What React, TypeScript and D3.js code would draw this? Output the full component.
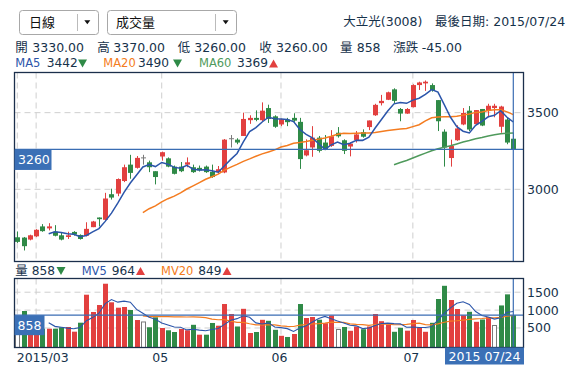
import React from "react";
import * as d3 from "d3";

// ---- data ----
const opens = [2687,2685,2672,2693,2758,2745,2723,2700,2689,2722,2702,2697,2753,2816,2801,2968,2972,3054,3161,3140,
  3205,3176,3118,3214,3202,3148,3148,3161,3144,3140,3148,3114,3112,3110,3330,3324,3348,3451,3466,3451,
  3530,3476,3423,3455,3466,3440,3221,3273,3337,3305,3283,3369,3320,3279,3322,3373,3406,3483,3562,3584,
  3652,3524,3494,3536,3680,3691,3680,3582,3376,3204,3320,3423,3513,3425,3524,3513,3530,3408,3455,3330];
const highs = [2725,2689,2704,2740,2773,2779,2766,2715,2723,2727,2706,2785,2794,2816,2977,3004,3071,3161,3225,3217,
  3225,3187,3118,3246,3208,3155,3178,3208,3161,3155,3155,3161,3152,3328,3354,3333,3500,3483,3515,3567,
  3552,3483,3461,3466,3496,3466,3326,3412,3348,3354,3386,3406,3326,3305,3380,3391,3449,3558,3616,3637,
  3659,3530,3530,3685,3702,3710,3691,3582,3391,3324,3418,3530,3543,3517,3524,3558,3558,3545,3470,3370];
const lows = [2650,2601,2667,2689,2723,2732,2693,2667,2676,2698,2672,2693,2753,2758,2796,2933,2955,3047,3069,3135,
  3161,3112,3032,3187,3144,3097,3112,3144,3107,3116,3107,3075,3101,3105,3273,3294,3348,3427,3444,3444,
  3433,3401,3412,3412,3440,3133,3215,3212,3240,3255,3277,3337,3230,3215,3305,3337,3386,3479,3547,3582,
  3562,3444,3492,3534,3648,3642,3637,3380,3148,3148,3316,3418,3380,3423,3412,3470,3470,3369,3294,3260];
const closes = [2657,2629,2700,2736,2727,2758,2697,2672,2700,2705,2676,2742,2790,2805,2940,2946,3067,3144,3107,3205,
  3205,3144,3080,3242,3148,3101,3118,3176,3112,3123,3112,3080,3131,3324,3330,3305,3459,3466,3453,3513,
  3459,3408,3457,3438,3448,3197,3255,3337,3251,3262,3346,3346,3251,3298,3358,3343,3449,3551,3577,3633,
  3577,3494,3524,3680,3697,3702,3648,3444,3273,3283,3397,3498,3390,3517,3416,3545,3545,3540,3305,3260];
const volumes = [600,975,650,640,480,480,480,520,528,397,648,1430,947,1142,1737,1218,1067,1087,1003,723,
  668,520,799,500,436,388,472,436,589,313,313,640,564,1170,891,542,1036,360,388,729,
  701,450,282,249,332,1170,779,807,732,634,849,458,528,422,542,466,542,891,690,598,
  394,506,425,723,514,394,645,1310,1679,1282,1031,855,953,673,737,807,570,1130,1440,858];

const monthTickIndex = [0, 3, 23, 42, 63];
const monthTickLabels = ["2015/03", "", "05", "06", "07"];
const priceTicks = [3000, 3500];
const volumeTicks = [500, 1000, 1500];
const lastDateLabel = "2015 07/24";
const stockTitle = "大立光(3008)";
const dateTitle = "最後日期: 2015/07/24";
const quoteLabels = ["開", "高", "低", "收", "量", "漲跌"];
const quoteValues = ["3330.00", "3370.00", "3260.00", "3260.00", "858", "-45.00"];
const maNames = ["MA5", "MA20", "MA60"];
const maValues = ["3442", "3490", "3369"];
const maTrend = [-1, -1, 1];
const mvNames = ["量", "MV5", "MV20"];
const mvValues = ["858", "964", "849"];
const mvTrend = [-1, 1, 1];

// ---- style ----
const FONT = "'DejaVu Sans', 'Noto Sans CJK TC', sans-serif";
const TXT = "#16324b";
const RED = "#e2403f";
const GREEN = "#2f8a47";
const GRAY = "#7a7a7a";
const C_MA5 = "#2b55aa";
const C_MA20 = "#f47c20";
const C_MA60 = "#4f9a5c";
const FRAME = "#1b2f4c";
const GRID = "#cfcfcf";
const CROSS = "#3a6db3";
const BOX = "#3b70b6";

const W = 583, H = 380;
const L = 14.5, R = 523.5;
const mainTop = 72.5, mainBot = 261.5, volTop = 278.5, volBot = 347.5;

function movingAvg(arr: number[], n: number): (number | null)[] {
  return arr.map((_, i) => (i >= n ? (d3.mean(arr.slice(i - n + 1, i + 1)) as number) : null));
}

function Tri({ x, y, dir }: { x: number; y: number; dir: number }) {
  const d = dir < 0
    ? `M${x - 4.5},${y - 4}L${x + 4.5},${y - 4}L${x},${y + 4}Z`
    : `M${x - 4.5},${y + 4}L${x + 4.5},${y + 4}L${x},${y - 4}Z`;
  return <path d={d} fill={dir < 0 ? GREEN : RED} />;
}

export default function App() {
  const n = closes.length;
  const x = d3.scaleLinear().domain([0, n - 1]).range([17.3, 513.3]);
  const yP = d3.scaleLinear().domain([2529, 3762]).range([mainBot, mainTop]);
  const yV = d3.scaleLinear().domain([-45, 1883]).range([volBot, volTop]);
  const bw = 5;

  const lineP = d3.line<number | null>().defined((d) => d != null).x((_, i) => x(i)).y((d) => yP(d as number));
  const lineV = d3.line<number | null>().defined((d) => d != null).x((_, i) => x(i)).y((d) => yV(d as number));

  const ma5 = movingAvg(closes, 5);
  const ma20 = movingAvg(closes, 20);
  const ma60 = movingAvg(closes, 60);
  const mv5 = movingAvg(volumes, 5);
  const mv20 = movingAvg(volumes, 20);

  const last = n - 1;
  const lastX = x(last);
  const lastY = yP(closes[last]);
  const lastVY = yV(volumes[last]);

  const quoteX = [15.3, 97.3, 177.7, 259.3, 340, 393.3];
  const quoteVX = [32.3, 113.3, 194.3, 276, 356.7, 421.7];
  const maX = [15.3, 103.3, 199];
  const maVX = [46.7, 138, 237];
  const maTX = [82.5, 177.5, 273.5];
  const maColors = [C_MA5, C_MA20, C_MA60];
  const mvX = [15.3, 81.7, 161];
  const mvVX = [31.7, 111.7, 198.3];
  const mvTX = [61, 140.5, 227];
  const mvColors = [TXT, C_MA5, C_MA20];

  return (
    <svg width={W} height={H} style={{ position: "absolute", left: 0, top: 0, background: "#fff" }} fontFamily={FONT}>
      <defs>
        <clipPath id="mainClip"><rect x={L} y={mainTop} width={R - L} height={mainBot - mainTop} /></clipPath>
        <clipPath id="volClip"><rect x={L} y={volTop} width={R - L} height={volBot - volTop} /></clipPath>
      </defs>
      <rect x={0} y={0} width={W} height={H} fill="#fff" />

      {/* dropdowns */}
      <g>
        <rect x={19.5} y={10.5} width={79} height={24} rx={3} fill="#fff" stroke="#a8a8a8" />
        <line x1={77.5} x2={77.5} y1={14} y2={31} stroke="#bbb" />
        <path d="M84.3,20.3L90.3,20.3L87.3,24.3Z" fill="#111" />
        <text x={29} y={22.5} fontSize={13} fill="#111" dominantBaseline="central">日線</text>
        <rect x={107.5} y={10.5} width={129} height={24} rx={3} fill="#fff" stroke="#a8a8a8" />
        <line x1={215.5} x2={215.5} y1={14} y2={31} stroke="#bbb" />
        <path d="M222.7,20.3L228.7,20.3L225.7,24.3Z" fill="#111" />
        <text x={116} y={22.5} fontSize={13} fill="#111" dominantBaseline="central">成交量</text>
      </g>
      <text x={343.3} y={21} fontSize={12.5} fill={TXT} dominantBaseline="central">{stockTitle}</text>
      <text x={435} y={21} fontSize={12.5} fill={TXT} dominantBaseline="central">{dateTitle}</text>

      {/* quote line */}
      {quoteLabels.map((t, i) => (
        <g key={"q" + i}>
          <text x={quoteX[i]} y={47.3} fontSize={12.5} fill={TXT} dominantBaseline="central">{t}</text>
          <text x={quoteVX[i]} y={47.3} fontSize={12.5} fill={TXT} dominantBaseline="central">{quoteValues[i]}</text>
        </g>
      ))}
      {/* MA legend */}
      {maNames.map((t, i) => (
        <g key={"m" + i}>
          <text x={maX[i]} y={63.3} fontSize={11.5} fill={maColors[i]} dominantBaseline="central">{t}</text>
          <text x={maVX[i]} y={63.3} fontSize={12.2} fill={TXT} dominantBaseline="central">{maValues[i]}</text>
          <Tri x={maTX[i]} y={63.5} dir={maTrend[i]} />
        </g>
      ))}

      {/* grid */}
      {priceTicks.map((p) => (
        <line key={"pg" + p} x1={L} x2={R} y1={yP(p)} y2={yP(p)} stroke={GRID} strokeDasharray="6,4" />
      ))}
      {monthTickIndex.map((mi) => (
        <g key={"vg" + mi}>
          <line x1={x(mi)} x2={x(mi)} y1={mainTop} y2={mainBot} stroke={GRID} strokeDasharray="6,4" />
          <line x1={x(mi)} x2={x(mi)} y1={volTop} y2={volBot} stroke={GRID} strokeDasharray="6,4" />
        </g>
      ))}
      {volumeTicks.map((v) => (
        <line key={"vtg" + v} x1={L} x2={R} y1={yV(v)} y2={yV(v)} stroke={GRID} strokeDasharray="6,4" />
      ))}

      {/* candles */}
      <g clipPath="url(#mainClip)">
        {closes.map((c, i) => {
          const o = opens[i];
          const col = c > o ? RED : c < o ? GREEN : GRAY;
          const top = yP(Math.max(o, c));
          const bot = yP(Math.min(o, c));
          const cx = Math.round(x(i)) + 0.5;
          return (
            <g key={"c" + i}>
              <line x1={cx} x2={cx} y1={yP(highs[i])} y2={yP(lows[i])} stroke={col} />
              {c === o ? (
                <line x1={cx - 2.5} x2={cx + 2.5} y1={top} y2={top} stroke={col} />
              ) : (
                <rect x={cx - bw / 2} y={top} width={bw} height={Math.max(1, bot - top)} fill={col} />
              )}
            </g>
          );
        })}
        <path d={lineP(ma60) || ""} fill="none" stroke={C_MA60} strokeWidth={1.5} />
        <path d={lineP(ma20) || ""} fill="none" stroke={C_MA20} strokeWidth={1.5} />
        <path d={lineP(ma5) || ""} fill="none" stroke={C_MA5} strokeWidth={1.5} />
      </g>

      {/* volume bars */}
      <g clipPath="url(#volClip)">
        {volumes.map((v, i) => {
          const prev = i > 0 ? closes[i - 1] : closes[i];
          const c = closes[i];
          const cx = Math.round(x(i)) + 0.5;
          if (c === prev) {
            return (
              <rect key={"v" + i} x={cx - 2} y={yV(v)} width={4} height={volBot - yV(v)} fill="#fff" stroke={GRAY} />
            );
          }
          return (
            <rect key={"v" + i} x={cx - bw / 2} y={yV(v)} width={bw} height={volBot - yV(v)} fill={c > prev ? RED : GREEN} />
          );
        })}
        <path d={lineV(mv20) || ""} fill="none" stroke={C_MA20} strokeWidth={1.2} />
        <path d={lineV(mv5) || ""} fill="none" stroke={C_MA5} strokeWidth={1.1} />
      </g>

      {/* crosshair */}
      <line x1={L} x2={R} y1={lastY} y2={lastY} stroke={CROSS} strokeWidth={1.2} />
      <line x1={L} x2={R} y1={lastVY} y2={lastVY} stroke={CROSS} strokeWidth={1.2} />
      <line x1={lastX} x2={lastX} y1={mainTop} y2={mainBot} stroke={CROSS} strokeWidth={1.2} />
      <line x1={lastX} x2={lastX} y1={volTop} y2={volBot} stroke={CROSS} strokeWidth={1.2} />

      {/* frames */}
      <rect x={L} y={mainTop} width={R - L} height={mainBot - mainTop} fill="none" stroke={FRAME} strokeWidth={1.3} />
      <rect x={L} y={volTop} width={R - L} height={volBot - volTop} fill="none" stroke={FRAME} strokeWidth={1.3} />

      {/* crosshair labels */}
      <rect x={L} y={lastY} width={37} height={20.5} fill={BOX} />
      <text x={18} y={lastY + 10.5} fontSize={12.5} fill="#fff" dominantBaseline="central">{String(closes[last])}</text>
      <rect x={L} y={lastVY} width={30} height={20} fill={BOX} />
      <text x={17.5} y={lastVY + 10} fontSize={12.5} fill="#fff" dominantBaseline="central">{String(volumes[last])}</text>

      {/* right axes */}
      {priceTicks.map((p) => (
        <text key={"pt" + p} x={527} y={yP(p)} fontSize={12.5} fill={TXT} dominantBaseline="central">{p}</text>
      ))}
      {volumeTicks.map((v) => (
        <text key={"vt" + v} x={527} y={yV(v)} fontSize={12.5} fill={TXT} dominantBaseline="central">{v}</text>
      ))}

      {/* volume legend */}
      {mvNames.map((t, i) => (
        <g key={"mv" + i}>
          <text x={mvX[i]} y={270.7} fontSize={i === 0 ? 12.5 : 11.5} fill={mvColors[i]} dominantBaseline="central">{t}</text>
          <text x={mvVX[i]} y={270.7} fontSize={12.2} fill={TXT} dominantBaseline="central">{mvValues[i]}</text>
          <Tri x={mvTX[i]} y={271} dir={mvTrend[i]} />
        </g>
      ))}

      {/* x axis labels */}
      {monthTickIndex.map((mi, k) =>
        monthTickLabels[k] ? (
          <text key={"xl" + k} x={k === 0 ? 16.7 : x(mi) - 1.5} y={357.5} fontSize={12.5} fill={TXT}
            textAnchor={k === 0 ? "start" : "middle"} dominantBaseline="central">{monthTickLabels[k]}</text>
        ) : null
      )}
      <rect x={445} y={347.5} width={79} height={17} fill={BOX} />
      <text x={484.5} y={356.2} fontSize={12.5} fill="#fff" textAnchor="middle" dominantBaseline="central">{lastDateLabel}</text>
    </svg>
  );
}
